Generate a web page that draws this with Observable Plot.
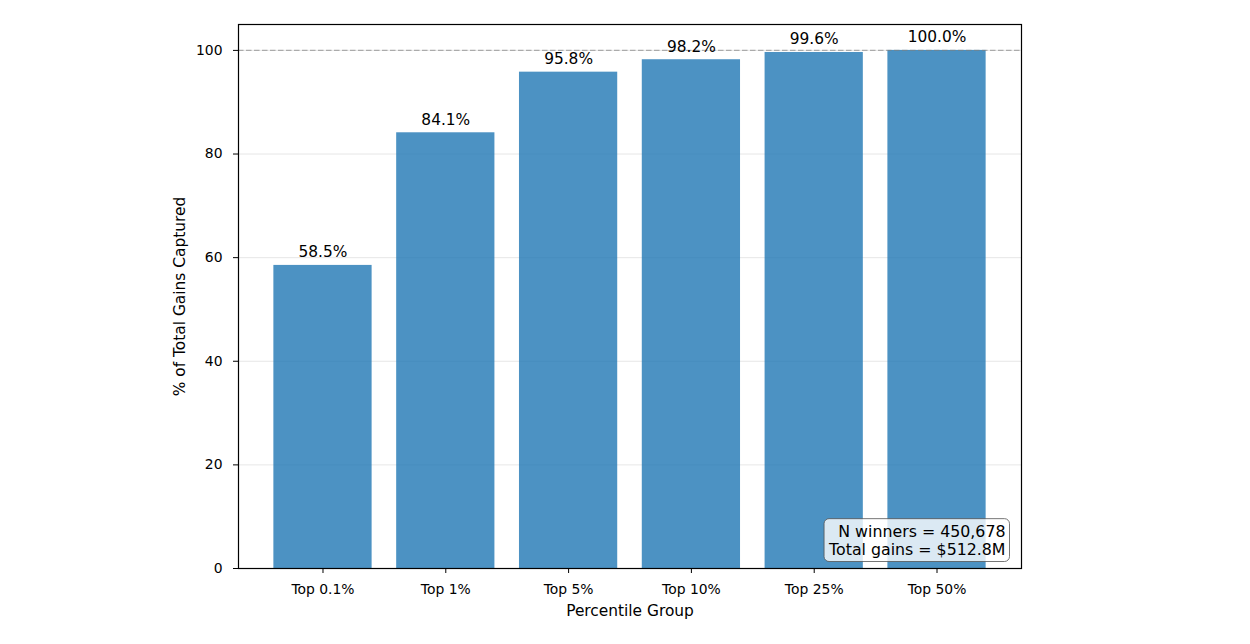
<!DOCTYPE html>
<html>
<head>
<meta charset="utf-8">
<script src="https://cdn.jsdelivr.net/npm/d3@7"></script>
<script src="https://cdn.jsdelivr.net/npm/@observablehq/plot@0.6"></script>
<style>
  html, body { margin: 0; padding: 0; background: #fff; }
  #chart { width: 1250px; height: 644px; }
</style>
</head>
<body>
<div id="chart"></div>
<script>
const categories = ["Top 0.1%", "Top 1%", "Top 5%", "Top 10%", "Top 25%", "Top 50%"];
const shares = [58.5, 84.1, 95.8, 98.2, 99.6, 100.0];
const yTicks = [0, 20, 40, 60, 80, 100];
const gridValues = [20, 40, 60, 80, 100];
const referenceLine = [100];
const annotationLines = ["N winners = 450,678", "Total gains = $512.8M"];
const xLabel = "Percentile Group";
const yLabel = "% of Total Gains Captured";

const data = categories.map((c, i) => ({category: c, share: shares[i]}));

const font = "'DejaVu Sans', sans-serif";

const chart = Plot.plot({
  width: 1250,
  height: 644,
  marginLeft: 238,
  marginRight: 229,
  marginTop: 24,
  marginBottom: 76,
  style: {fontFamily: font, fontSize: "13.9px", color: "#000", background: "#fff"},
  x: {type: "band", domain: categories, paddingInner: 0.2, paddingOuter: 0.288, round: false, label: null},
  y: {domain: [0, 105], label: null},
  marks: [
    Plot.gridY(gridValues, {stroke: "#b0b0b0", strokeOpacity: 0.3, strokeWidth: 1}),
    Plot.barY(data, {x: "category", y: "share", fill: "#1f77b4", fillOpacity: 0.8}),
    Plot.ruleY(referenceLine, {stroke: "#808080", strokeOpacity: 0.6, strokeWidth: 1.4, strokeDasharray: "5.5,2.5"}),
    Plot.text(data, {x: "category", y: "share", text: d => d.share.toFixed(1) + "%", dy: -8, lineAnchor: "bottom", fontSize: 15.4, fill: "#000"}),
    Plot.axisY(yTicks, {tickSize: 5, tickPadding: 11, fontSize: 13.9, label: null}),
    Plot.axisX({tickSize: 5, tickPadding: 11, fontSize: 13.9, label: null}),
    Plot.text([yLabel], {frameAnchor: "left", dx: -58, rotate: -90, fontSize: 15.4, textAnchor: "middle"}),
    Plot.text([xLabel], {frameAnchor: "bottom", dy: 47, fontSize: 15.4, textAnchor: "middle"}),
    Plot.text([annotationLines.join("\n")], {frameAnchor: "bottom-right", dx: -16, dy: -14, textAnchor: "end", lineAnchor: "bottom", fontSize: 15.8, lineHeight: 1.13}),
    Plot.frame({stroke: "#000", strokeWidth: 1.2})
  ]
});

document.getElementById("chart").appendChild(chart);

// Rounded background box behind the annotation (inserted inside the same group so coordinates match)
const textGroups = chart.querySelectorAll('g[aria-label="text"]');
const annot = textGroups[textGroups.length - 1];
if (annot) {
  const bb = annot.getBBox();
  const padX = 4, padY = 3;
  const rect = document.createElementNS("http://www.w3.org/2000/svg", "rect");
  rect.setAttribute("x", bb.x - padX);
  rect.setAttribute("y", bb.y - padY);
  rect.setAttribute("width", bb.width + 2 * padX);
  rect.setAttribute("height", bb.height + 2 * padY);
  rect.setAttribute("rx", 5);
  rect.setAttribute("fill", "#ffffff");
  rect.setAttribute("fill-opacity", 0.8);
  rect.setAttribute("stroke", "#555");
  rect.setAttribute("stroke-opacity", 0.8);
  annot.insertBefore(rect, annot.firstChild);
}
</script>
</body>
</html>
